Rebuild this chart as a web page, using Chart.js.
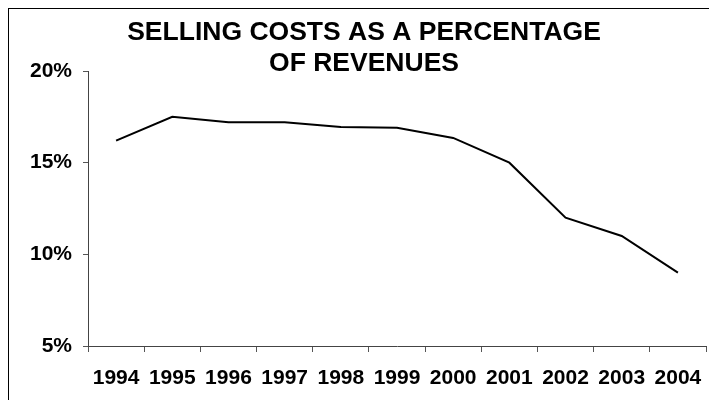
<!DOCTYPE html>
<html>
<head>
<meta charset="utf-8">
<script src="https://cdn.jsdelivr.net/npm/chart.js@4"></script>
<style>
    html, body { margin: 0; padding: 0; width: 709px; height: 400px; overflow: hidden; background: #fff; }
    #marco { position: absolute; left: 8px; top: 8px; width: 740px; height: 440px; border: 1px solid #000; box-sizing: border-box; }
    #wrap { position: absolute; left: 0; top: 0; width: 709px; height: 400px; }
</style>
</head>
<body>
<div id="marco"></div>
<div id="wrap"><canvas id="grafico" width="709" height="400"></canvas></div>
<script>
// Datos
const anios = ['1994', '1995', '1996', '1997', '1998', '1999', '2000', '2001', '2002', '2003', '2004'];
const costosVenta = [16.2, 17.5, 17.2, 17.2, 16.95, 16.9, 16.35, 15.0, 12.0, 11.0, 9.0];
const ejeYMin = 5;
const ejeYMax = 20;
const ejeYPaso = 5;
const tituloLineas = ['SELLING COSTS AS A PERCENTAGE', 'OF REVENUES'];

const FUENTE = '"Liberation Sans", Arial, Helvetica, sans-serif';

// Título dibujado a mano (se solapa con el área del gráfico)
const tituloPlugin = {
    id: 'tituloCentrado',
    afterDraw(chart) {
        const ctx = chart.ctx;
        ctx.save();
        ctx.font = 'bold 26.5px ' + FUENTE;
        ctx.fillStyle = '#000';
        ctx.textAlign = 'center';
        ctx.textBaseline = 'alphabetic';
        tituloLineas.forEach((linea, i) => ctx.fillText(linea, 364, 39.5 + i * 31.5));
        ctx.restore();
    }
};

const ctx = document.getElementById('grafico').getContext('2d');
new Chart(ctx, {
    type: 'line',
    data: {
        labels: anios,
        datasets: [{
            data: costosVenta,
            borderColor: '#000',
            borderWidth: 2,
            pointRadius: 0,
            tension: 0,
            fill: false
        }]
    },
    options: {
        responsive: false,
        animation: false,
        layout: { padding: { top: 71, right: 3, bottom: 0, left: 0 } },
        plugins: {
            legend: { display: false },
            tooltip: { enabled: false },
            title: { display: false }
        },
        scales: {
            x: {
                offset: true,
                grid: { offset: true, drawOnChartArea: false, drawTicks: true, tickLength: 6, color: '#555' },
                border: { display: true, color: '#444', width: 1 },
                ticks: { color: '#000', font: { family: FUENTE, size: 21, weight: 'bold' }, padding: 14, maxRotation: 0, autoSkip: false },
                afterFit(scale) {
                    scale.height = 54;
                    // sin relleno lateral extra: el eje llega hasta el borde derecho
                    scale.paddingLeft = 0;
                    scale.paddingRight = 0;
                }
            },
            y: {
                min: ejeYMin,
                max: ejeYMax,
                grid: { drawOnChartArea: false, drawTicks: true, tickLength: 5, color: '#555' },
                border: { display: true, color: '#444', width: 1 },
                ticks: {
                    stepSize: ejeYPaso,
                    color: '#000',
                    padding: 11,
                    font: { family: FUENTE, size: 21, weight: 'bold' },
                    callback: v => v + '%'
                },
                afterFit(scale) { scale.width = 88; }
            }
        }
    },
    plugins: [tituloPlugin]
});
</script>
</body>
</html>
